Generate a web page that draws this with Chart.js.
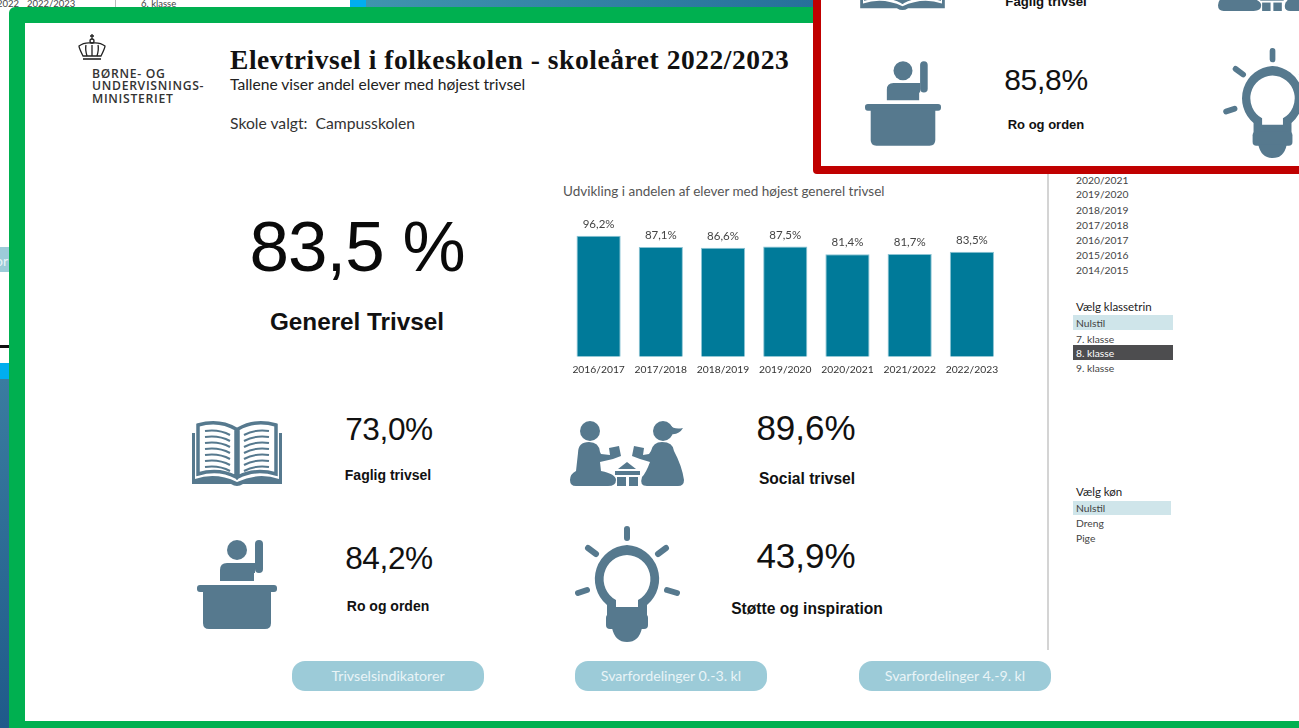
<!DOCTYPE html>
<html lang="da">
<head>
<meta charset="utf-8">
<title>Elevtrivsel i folkeskolen</title>
<script src="https://cdn.jsdelivr.net/npm/chart.js@4/dist/chart.umd.min.js"></script>
<style>
  html, body { margin: 0; padding: 0; width: 1299px; height: 728px; overflow: hidden; background: #fff; }
  body { position: relative; font-family: "Liberation Sans", sans-serif; color: #111; }
  .abs { position: absolute; }
  .t { position: absolute; line-height: 1; white-space: nowrap; }
  .c { transform: translate(-50%, -50%); }
  .m { transform: translateY(-50%); }
  .side { font-family: Lato, sans-serif; font-size: 10.3px; color: #444; left: 1076px; }
  .sel { position: absolute; background: #cfe5ea; }
  .btn { position: absolute; top: 661px; width: 192px; height: 30px; border-radius: 13px; background: #9ccbd8;
         color: #e9f4f7; font: 14.2px/30px Lato, sans-serif; text-align: center; }
  .ico { position: absolute; fill: #56798e; overflow: visible; }
  #wrap { position: absolute; left: 550px; top: 200px; width: 470px; height: 185px; }
</style>
</head>
<body>

<svg width="0" height="0" style="position:absolute">
  <defs>
    <symbol id="book" viewBox="0 0 90 67" overflow="visible">
      <path d="M0,13 H3 V59 Q24,52 45,62 Q66,52 87,59 V13 H90 V64 H51 Q45,68 39,64 H0 Z"/>
      <g fill="#fff" stroke="#56798e" stroke-width="3.5">
        <path d="M6,5 Q27,-1 44,9 V57 Q27,48 6,54 Z"/>
        <path d="M84,5 Q63,-1 46,9 V57 Q63,48 84,54 Z"/>
      </g>
      <g fill="none" stroke="#56798e" stroke-width="2">
        <path d="M13,11 Q27,9 38,15 M13,17 Q27,15 38,21 M13,23 Q27,21 38,27 M13,29 Q27,27 38,33 M13,35 Q27,33 38,39 M13,41 Q27,39 38,45 M13,47 Q27,45 38,51"/>
        <path d="M77,11 Q63,9 52,15 M77,17 Q63,15 52,21 M77,23 Q63,21 52,27 M77,29 Q63,27 52,33 M77,35 Q63,33 52,39 M77,41 Q63,39 52,45 M77,47 Q63,45 52,51"/>
      </g>
    </symbol>
    <symbol id="play" viewBox="0 0 114 65" overflow="visible">
      <circle cx="20" cy="10" r="10"/>
      <path d="M8,32 Q8,21 19,21 Q29,21 30,31 L31,33 L40,34 L39,27 L49,25 L51,35 L43,38 L30,41 L31,50 Q46,53 46,59 Q46,65 38,65 H6 Q0,65 0,59 Q0,53 6,50 Z"/>
      <circle cx="93" cy="10" r="10"/>
      <path d="M100,4 Q104,9 113,7 Q109,14 101,13 Z"/>
      <path d="M104,30 Q103,21 92,21 Q83,21 81,30 L79,33 L73,34 L74,27 L64,25 L62,35 L70,38 L80,41 Q76,52 72,56 Q69,65 77,65 H108 Q114,65 114,59 Q112,45 104,30 Z"/>
      <path d="M57,41 L66,48 H48 Z"/>
      <rect x="45" y="50" width="25" height="4"/>
      <rect x="47" y="56" width="9" height="9"/>
      <rect x="59" y="56" width="9" height="9"/>
    </symbol>
    <symbol id="desk" viewBox="0 0 80 89" overflow="visible">
      <circle cx="40" cy="10" r="10"/>
      <rect x="58" y="0" width="8" height="33" rx="4"/>
      <path d="M23,41 V30 Q23,23 30,23 H58 V33 H57 V41 Z"/>
      <rect x="0" y="45" width="80" height="7" rx="3"/>
      <path d="M6,50 H74 V83 Q74,89 68,89 H12 Q6,89 6,83 Z"/>
    </symbol>
    <symbol id="bulb" viewBox="0 0 105 116" overflow="visible">
      <g fill="none" stroke="#56798e" stroke-width="6" stroke-linecap="round">
        <path d="M52,3 V12 M13,22 L21,28 M91,22 L83,28 M3,67 L12,64 M102,67 L92,64"/>
      </g>
      <path fill-rule="evenodd" d="M52,19 A34,34 0 0 1 72,79 V90 H32 V79 A34,34 0 0 1 52,19 Z M52,29 A24,24 0 0 0 41,74 V81 H63 V74 A24,24 0 0 0 52,29 Z"/>
      <rect x="31" y="88" width="42" height="15" rx="4"/>
      <path d="M37,102 H67 Q64,116 52,116 Q40,116 37,102 Z"/>
    </symbol>
  </defs>
</svg>

<!-- what shows behind the frames -->
<div class="t side" style="left:-3px;top:-1px;font-size:9.5px">2022</div>
<div class="t side" style="left:27px;top:-1px;font-size:9.5px">2022/2023</div>
<div class="abs" style="left:115px;top:0;width:1px;height:8px;background:#bbb"></div>
<div class="t side" style="left:141px;top:-1px;font-size:9.5px">6. klasse</div>
<div class="abs" style="left:350px;top:0;width:16px;height:8px;background:#00aeef"></div>
<div class="abs" style="left:366px;top:0;width:450px;height:8px;background:linear-gradient(90deg,#3f94ae,#26709a)"></div>
<div class="abs" style="left:0;top:247px;width:9px;height:25px;background:#9ccbd8"></div>
<div class="t m" style="left:-5px;top:260px;font:14px Lato,sans-serif;color:#e9f4f7">or</div>
<div class="abs" style="left:0;top:345px;width:9px;height:3px;background:#111"></div>
<div class="abs" style="left:0;top:363px;width:9px;height:16px;background:#00aeef"></div>
<div class="abs" style="left:0;top:379px;width:9px;height:349px;background:linear-gradient(180deg,#3a7ca0,#1f5a8a)"></div>

<!-- green frame -->
<div class="abs" style="left:9px;top:7px;width:1400px;height:730px;box-sizing:border-box;border:16px solid #00b050;border-radius:6px;background:#fff"></div>

<!-- logo -->
<svg class="abs" style="left:77px;top:34px" width="30" height="27" viewBox="0 0 30 27" fill="none" stroke="#222" stroke-width="1.3">
  <path d="M15,0 V5 M13,2 H17"/>
  <circle cx="15" cy="7" r="2"/>
  <path d="M6,22 Q2,14 2,12 Q7,8 15,9 Q23,8 28,12 Q28,14 24,22 Z"/>
  <path d="M10,22 Q8,15 9,11 M20,22 Q22,15 21,11 M15,22 V11"/>
  <path d="M6,25 H24" stroke-width="1.6"/>
</svg>
<div class="t" style="left:92px;top:68px;font:600 12.2px/12.4px 'Open Sans',sans-serif;letter-spacing:.7px;color:#333">BØRNE- OG<br>UNDERVISNINGS-<br>MINISTERIET</div>

<!-- header -->
<div class="t m" style="left:230px;top:60px;font:bold 27.5px 'Liberation Serif',serif;letter-spacing:.55px;color:#111">Elevtrivsel i folkeskolen - skoleåret 2022/2023</div>
<div class="t m" style="left:230px;top:84px;font:15.6px Lato,sans-serif;color:#222">Tallene viser andel elever med højest trivsel</div>
<div class="t m" style="left:230px;top:123px;font:15.7px Lato,sans-serif;color:#333;white-space:pre">Skole valgt:  Campusskolen</div>

<!-- main figure -->
<div class="t c" style="left:357px;top:246px;font-size:71px;letter-spacing:-1px;color:#0a0a0a">83,5 %</div>
<div class="t c" style="left:357px;top:322px;font-size:24.3px;font-weight:bold;color:#111">Generel Trivsel</div>

<!-- bar chart -->
<div class="t m" style="left:563px;top:191px;font:13.5px Lato,sans-serif;color:#555">Udvikling i andelen af elever med højest generel trivsel</div>
<div id="wrap"><canvas id="trivsel-chart" width="470" height="185"></canvas></div>

<!-- indicators -->
<svg class="ico" style="left:192px;top:420px" width="90" height="67"><use href="#book"/></svg>
<div class="t c" style="left:389px;top:430px;font-size:31.6px;letter-spacing:-.4px">73,0%</div>
<div class="t c" style="left:388px;top:475px;font-size:14px;font-weight:bold">Faglig trivsel</div>

<svg class="ico" style="left:570px;top:421px" width="114" height="65"><use href="#play"/></svg>
<div class="t c" style="left:806px;top:427px;font-size:35px">89,6%</div>
<div class="t c" style="left:807px;top:479px;font-size:15.6px;font-weight:bold">Social trivsel</div>

<svg class="ico" style="left:197px;top:540px" width="80" height="89"><use href="#desk"/></svg>
<div class="t c" style="left:389px;top:559px;font-size:31.6px;letter-spacing:-.4px">84,2%</div>
<div class="t c" style="left:388px;top:606px;font-size:14px;font-weight:bold">Ro og orden</div>

<svg class="ico" style="left:575px;top:526px" width="105" height="116"><use href="#bulb"/></svg>
<div class="t c" style="left:806px;top:555px;font-size:35px">43,9%</div>
<div class="t c" style="left:807px;top:609px;font-size:15.6px;font-weight:bold">Støtte og inspiration</div>

<!-- buttons -->
<div class="btn" style="left:292px">Trivselsindikatorer</div>
<div class="btn" style="left:575px">Svarfordelinger 0.-3. kl</div>
<div class="btn" style="left:859px">Svarfordelinger 4.-9. kl</div>

<!-- filter panel -->
<div class="abs" style="left:1047px;top:170px;width:2px;height:480px;background:#d4d4d4"></div>
<div class="t side m" style="top:180px">2020/2021</div>
<div class="t side m" style="top:194px">2019/2020</div>
<div class="t side m" style="top:210px">2018/2019</div>
<div class="t side m" style="top:225px">2017/2018</div>
<div class="t side m" style="top:240px">2016/2017</div>
<div class="t side m" style="top:255px">2015/2016</div>
<div class="t side m" style="top:270px">2014/2015</div>
<div class="t side m" style="top:307px;font-size:11.5px;color:#222">Vælg klassetrin</div>
<div class="sel" style="left:1073px;top:315px;width:100px;height:15px"></div>
<div class="t side m" style="top:323px">Nulstil</div>
<div class="t side m" style="top:339px">7. klasse</div>
<div class="sel" style="left:1073px;top:345px;width:100px;height:15px;background:#4d4d4f"></div>
<div class="t side m" style="top:353px;color:#fff">8. klasse</div>
<div class="t side m" style="top:368px">9. klasse</div>
<div class="t side m" style="top:492px;font-size:11.5px;color:#222">Vælg køn</div>
<div class="sel" style="left:1073px;top:501px;width:98px;height:14px"></div>
<div class="t side m" style="top:508px">Nulstil</div>
<div class="t side m" style="top:523px">Dreng</div>
<div class="t side m" style="top:538px">Pige</div>

<!-- red frame on top -->
<div class="abs" style="left:813px;top:-40px;width:600px;height:214px;box-sizing:border-box;border:8px solid #c00000;border-radius:4px;background:#fff"></div>
<svg class="ico" style="left:860px;top:-52px" width="85" height="63"><use href="#book"/></svg>
<div class="t c" style="left:1046px;top:2px;font-size:13.2px;font-weight:bold">Faglig trivsel</div>
<svg class="ico" style="left:1218px;top:-50px" width="107" height="61"><use href="#play"/></svg>
<svg class="ico" style="left:865px;top:61px" width="76" height="85"><use href="#desk"/></svg>
<div class="t c" style="left:1046px;top:80px;font-size:30px;letter-spacing:-.3px">85,8%</div>
<div class="t c" style="left:1046px;top:124px;font-size:13px;font-weight:bold">Ro og orden</div>
<svg class="ico" style="left:1223px;top:48px" width="100" height="110"><use href="#bulb"/></svg>

<script>
var schoolYears = ['2016/2017', '2017/2018', '2018/2019', '2019/2020', '2020/2021', '2021/2022', '2022/2023'];
var shareHighest = [96.2, 87.1, 86.6, 87.5, 81.4, 81.7, 83.5];

function formatPct(v) {
  return v.toFixed(1).replace('.', ',') + '%';
}

// writes the value above each bar
var barLabels = {
  id: 'barLabels',
  afterDatasetsDraw: function (chart) {
    var ctx = chart.ctx;
    var meta = chart.getDatasetMeta(0);
    ctx.save();
    ctx.font = '11.5px Lato, sans-serif';
    ctx.fillStyle = '#444';
    ctx.textAlign = 'center';
    ctx.textBaseline = 'bottom';
    meta.data.forEach(function (bar, i) {
      ctx.fillText(formatPct(shareHighest[i]), bar.x, bar.y - 6);
    });
    ctx.restore();
  }
};

new Chart(document.getElementById('trivsel-chart'), {
  type: 'bar',
  data: {
    labels: schoolYears,
    datasets: [{
      data: shareHighest,
      backgroundColor: '#007a99',
      borderColor: '#8cc4d4',
      borderWidth: 1,
      barPercentage: 0.71,
      categoryPercentage: 1
    }]
  },
  options: {
    responsive: false,
    animation: false,
    layout: { padding: { left: 17.5, right: 17, top: 5.7, bottom: 0 } },
    plugins: { legend: { display: false }, tooltip: { enabled: false } },
    scales: {
      x: {
        grid: { display: false, drawTicks: false },
        border: { display: false },
        afterFit: function (scale) { scale.height = 28.3; },
        ticks: { color: '#333', font: { family: 'Lato, sans-serif', size: 10.3 }, padding: 7, maxRotation: 0, autoSkip: false }
      },
      y: { display: false, min: 0, max: 120 }
    }
  },
  plugins: [barLabels]
});
</script>
</body>
</html>
